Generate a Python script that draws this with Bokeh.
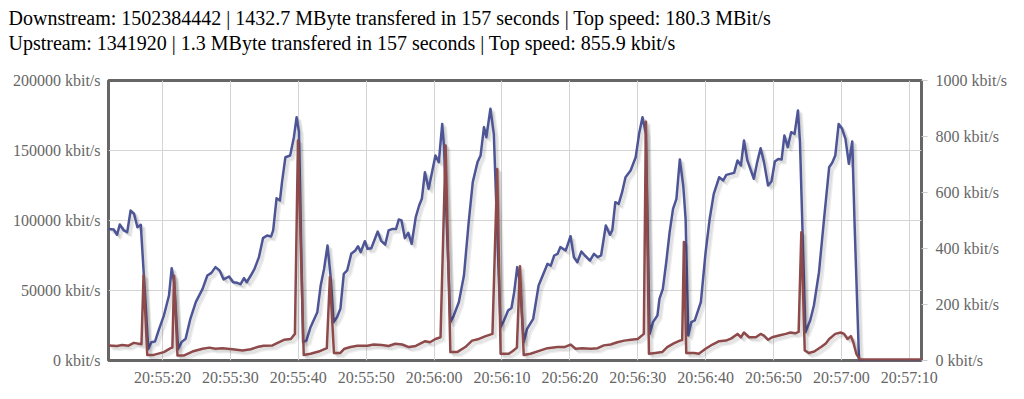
from bokeh.plotting import figure
from bokeh.models import (Range1d, LinearAxis, FixedTicker, PrintfTickFormatter,
                          DatetimeTickFormatter, Title)
from bokeh.embed import file_html
from bokeh.resources import INLINE

# ---------------- data ----------------
header_lines = [
    "Downstream: 1502384442 | 1432.7 MByte transfered in 157 seconds | Top speed: 180.3 MBit/s",
    "Upstream: 1341920 | 1.3 MByte transfered in 157 seconds | Top speed: 855.9 kbit/s",
]
time_tick_labels = ["20:55:20", "20:55:30", "20:55:40", "20:55:50", "20:56:00", "20:56:10",
                    "20:56:20", "20:56:30", "20:56:40", "20:56:50", "20:57:00", "20:57:10"]
down_ticks = [0, 50000, 100000, 150000, 200000]
up_ticks = [0, 200, 400, 600, 800, 1000]

# seconds after 20:55:00
down_t = [12.1, 12.8, 13.3, 13.7, 14.3, 14.8, 15.3, 15.8, 16.3, 16.8, 17.9, 18.35, 18.9, 19.5,
          20.2, 20.95, 21.35, 21.7, 22.3, 22.8, 23.4, 24.1, 24.9, 25.9, 26.6, 27.2, 27.8, 28.4,
          29.0, 29.8, 30.4, 31.0, 31.5, 32.0, 32.4, 33.0, 33.55, 34.2, 34.8, 35.4, 36.0, 36.3,
          36.8, 37.3, 37.6, 38.1, 38.8, 39.35, 39.75, 40.1, 40.7, 41.2, 41.8, 42.8, 43.3, 43.8,
          44.3, 44.75, 45.2, 45.7, 46.2, 46.7, 47.2, 47.8, 48.4, 48.8, 49.2, 49.8, 50.2, 50.75,
          51.7, 52.2, 52.8, 53.3, 53.9, 54.4, 54.8, 55.2, 55.7, 56.2, 56.7, 57.3, 57.8, 58.2,
          58.65, 59.2, 59.7, 60.2, 60.7, 61.2, 61.45, 62.4, 62.9, 63.65, 64.4, 65.1, 65.7, 66.4,
          66.85, 67.35, 67.7, 68.3, 68.8, 69.8, 70.3, 70.9, 71.4, 71.8, 72.25, 72.65, 73.2, 73.7,
          74.6, 75.4, 76.2, 76.7, 77.2, 77.7, 78.2, 78.6, 79.4, 80.1, 80.6, 81.1, 81.7, 82.3,
          82.96, 83.55, 84.1, 84.6, 85.3, 85.9, 86.25, 86.7, 87.2, 87.7, 88.2, 88.95, 89.7, 90.2,
          90.7, 91.2, 91.75, 92.25, 92.9, 93.2, 93.7, 94.2, 94.7, 95.2, 95.7, 96.2, 96.7, 97.05,
          97.45, 97.9, 98.4, 99.3, 100.0, 100.6, 101.2, 102.0, 102.6, 103.05, 103.6, 104.2, 104.7,
          105.2, 105.65, 106.15, 107.1, 107.6, 108.1, 108.6, 109.2, 109.7, 110.2, 110.7, 111.2,
          111.6, 112.1, 112.6, 113.1, 113.6, 113.9, 114.7, 115.4, 115.95, 116.7, 117.4, 118.2,
          118.65, 119.1, 119.6, 120.1, 120.6, 121.1, 121.6, 121.95, 122.6, 125.0, 128.0, 131.8]
down_kbit = [94000, 93600, 89800, 97100, 92900, 91700, 107100, 104800, 95200, 96900, 8300, 13100,
             13600, 22600, 32100, 46400, 65900, 55900, 8300, 13100, 15500, 29800, 41700, 51200,
             60700, 62600, 66700, 64300, 57900, 60000, 55900, 55500, 54500, 58800, 55900, 60700,
             65500, 73800, 87400, 89300, 88600, 92900, 115900, 114300, 127400, 145200, 146400,
             159500, 173800, 163100, 13100, 14300, 23800, 34500, 53600, 65500, 82100, 60700,
             27400, 30900, 36900, 61900, 64300, 76200, 78600, 81600, 77400, 85200, 79800, 80200,
             92100, 85500, 82800, 92900, 94000, 94000, 100700, 100000, 87400, 91200, 83300,
             102400, 110700, 115500, 134500, 122600, 134500, 146400, 141700, 169000, 153600,
             27400, 32100, 41700, 60700, 98800, 127400, 141700, 146400, 166700, 159500, 179800,
             161900, 23800, 28600, 35700, 37500, 48800, 66700, 55900, 13100, 22600, 29800, 53600,
             63100, 69000, 67800, 75000, 76200, 81000, 78600, 88800, 73800, 70200, 77900, 74500,
             71400, 76200, 73800, 75000, 96400, 89800, 92900, 113100, 111900, 120200, 130900,
             135700, 145200, 161900, 173800, 161900, 19000, 27400, 32100, 44000, 51200, 70200,
             91700, 108300, 115500, 143600, 125000, 101200, 17900, 27400, 28600, 41700, 77400,
             101200, 119000, 130900, 128600, 132600, 133300, 134000, 142900, 139300, 157100,
             142900, 129800, 141700, 151600, 141700, 125000, 127900, 142100, 144000, 143600,
             160700, 152400, 163100, 161900, 178600, 155900, 20200, 28600, 39300, 63100, 98800,
             138100, 141200, 146400, 169000, 165500, 158300, 140500, 156400, 96400, 0, 0, 0, 0]

up_t = [12.1, 13.3, 14.05, 15.0, 15.77, 16.9, 17.2, 17.75, 18.7, 20.2, 21.2, 21.45, 21.7, 22.2,
        23.2, 24.4, 25.9, 26.9, 27.8, 28.8, 30.3, 31.8, 33.0, 33.95, 34.9, 36.2, 37.1, 37.9,
        38.9, 39.5, 39.95, 40.8, 41.8, 43.0, 44.2, 44.65, 45.25, 46.2, 46.8, 47.7, 48.7, 50.2,
        51.1, 52.3, 53.3, 54.3, 55.3, 56.3, 57.3, 58.7, 59.4, 60.2, 60.95, 61.7, 62.4, 63.4,
        64.6, 65.6, 66.6, 67.6, 68.6, 69.3, 69.8, 71.0, 71.6, 72.2, 72.65, 73.2, 74.2, 75.7,
        76.7, 78.2, 79.2, 80.1, 80.85, 81.8, 83.1, 84.1, 85.0, 86.0, 87.0, 88.0, 89.0, 90.0,
        90.9, 91.2, 91.65, 92.6, 93.6, 94.35, 95.3, 96.2, 96.55, 96.8, 97.15, 98.3, 99.0, 100.0,
        101.0, 102.0, 103.0, 103.8, 104.7, 105.2, 105.65, 106.4, 107.4, 108.1, 108.6, 109.2,
        109.8, 110.8, 111.8, 112.5, 113.2, 113.7, 114.1, 114.6, 115.2, 116.0, 117.0, 117.7,
        118.2, 119.1, 119.9, 120.4, 120.9, 121.4, 121.75, 122.2, 122.7, 125.0, 128.0, 131.8]
up_kbit = [54, 52, 55, 53, 63, 58, 304, 20, 20, 30, 44, 46, 303, 18, 18, 32, 42, 46, 42, 44, 40,
           36, 40, 48, 53, 54, 65, 74, 77, 95, 786, 20, 24, 32, 44, 298, 27, 27, 42, 48, 53, 53,
           57, 55, 52, 60, 57, 48, 52, 69, 65, 77, 83, 768, 30, 30, 48, 71, 77, 87, 95, 684, 24,
           24, 34, 46, 337, 20, 24, 36, 44, 48, 48, 57, 42, 44, 42, 44, 54, 57, 65, 71, 74, 77,
           95, 853, 24, 27, 30, 48, 61, 71, 73, 423, 27, 27, 24, 42, 57, 69, 71, 79, 95, 83, 100,
           83, 83, 95, 89, 74, 83, 89, 95, 100, 97, 102, 458, 36, 27, 32, 48, 61, 77, 95, 100, 95,
           77, 87, 65, 24, 4, 4, 4, 4]

# ---------------- helpers ----------------
BASE_S = 20 * 3600 + 55 * 60  # 20:55:00 (UTC day 0)


def sec_to_ms(s):
    return (BASE_S + s) * 1000.0


def label_to_ms(lbl):
    h, m, s = (int(v) for v in lbl.split(":"))
    return (h * 3600 + m * 60 + s) * 1000.0


tick_ms = [label_to_ms(l) for l in time_tick_labels]
x_start, x_end = sec_to_ms(12.04), sec_to_ms(131.8)
FRAME_W, FRAME_H = 813, 280
DOWN_MAX, UP_MAX = 200000, 1000

blue = "#4d5596"
red = "#8e4a4a"
label_color = "#666666"
FONT = "'Liberation Serif', 'Times New Roman', serif"

p = figure(frame_width=FRAME_W, frame_height=FRAME_H,
           x_range=Range1d(x_start, x_end), y_range=Range1d(0, DOWN_MAX),
           x_axis_type="datetime", output_backend="svg", toolbar_location=None,
           min_border_left=108, min_border_right=95, min_border_top=80, min_border_bottom=31,
           background_fill_color="white", border_fill_color="white")

p.extra_y_ranges = {"up": Range1d(0, UP_MAX)}

# spacer between header and plot frame (blank title, closest to the frame)
p.add_layout(Title(text=" ", text_font_size="1px", standoff=23), "above")

# title (two header lines), sits above the spacer
p.title.text = "\n".join(header_lines)
p.title.align = "left"
p.title.text_font = FONT
p.title.text_font_size = "20px"
p.title.text_font_style = "normal"
p.title.text_color = "black"
p.title.offset = -100
p.title.standoff = 0
p.title.text_line_height = 1.15

# shadows (jqplot-like), offsets in screen pixels converted to data units
ms_per_px = (x_end - x_start) / FRAME_W
down_per_px = DOWN_MAX / FRAME_H
up_per_px = UP_MAX / FRAME_H
for k in (1, 2, 3):
    off = 1.25 * k
    p.line([sec_to_ms(t) + off * ms_per_px for t in down_t],
           [v - off * down_per_px for v in down_kbit],
           line_color="black", line_alpha=0.07, line_width=2.5, line_join="round")
p.line([sec_to_ms(t) for t in down_t], down_kbit, line_color=blue, line_width=2.5,
       line_join="round", line_cap="round")

for k in (1, 2, 3):
    off = 1.25 * k
    p.line([sec_to_ms(t) + off * ms_per_px for t in up_t],
           [v - off * up_per_px for v in up_kbit],
           line_color="black", line_alpha=0.07, line_width=2.5, line_join="round",
           y_range_name="up")
p.line([sec_to_ms(t) for t in up_t], up_kbit, line_color=red, line_width=2.5,
       line_join="round", line_cap="round", y_range_name="up")

# axes
fmt = "%H:%M:%S"
p.xaxis.ticker = FixedTicker(ticks=tick_ms)
p.xaxis.formatter = DatetimeTickFormatter(seconds=fmt, minsec=fmt, minutes=fmt, hourmin=fmt,
                                          hours=fmt, milliseconds=fmt)
p.yaxis.ticker = FixedTicker(ticks=down_ticks)
p.yaxis.formatter = PrintfTickFormatter(format="%d kbit/s")

right = LinearAxis(y_range_name="up", ticker=FixedTicker(ticks=up_ticks),
                   formatter=PrintfTickFormatter(format="%d kbit/s"))
p.add_layout(right, "right")

for ax in (p.xaxis[0], p.yaxis[0], right):
    ax.major_label_text_font = FONT
    ax.major_label_text_font_size = "16px"
    ax.major_label_text_color = label_color
    ax.axis_line_color = None
    ax.minor_tick_line_color = None
    ax.major_tick_in = 0

p.xaxis.major_tick_line_color = None
p.xaxis.major_tick_out = 0
p.xaxis.major_label_standoff = 8
p.yaxis[0].major_tick_line_color = None
p.yaxis[0].major_tick_out = 0
p.yaxis[0].major_label_standoff = 8
right.major_tick_line_color = "#cccccc"
right.major_tick_out = 6
right.major_label_standoff = 8

# grid
p.xgrid.ticker = FixedTicker(ticks=tick_ms)
p.ygrid.ticker = FixedTicker(ticks=down_ticks)
p.grid.grid_line_color = "#d4d4d4"
p.grid.grid_line_width = 1

p.outline_line_color = "#666666"
p.outline_line_width = 3

open("out.html", "w").write(file_html(p, INLINE))
